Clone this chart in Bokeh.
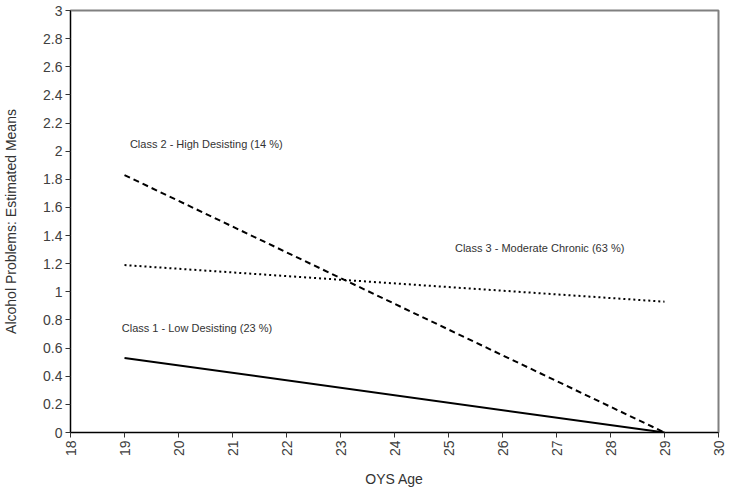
import math
from bokeh.plotting import figure
from bokeh.models import FixedTicker, Label
from bokeh.embed import file_html
from bokeh.resources import INLINE

# Data
ages = [19, 29]
class1 = [0.53, 0.0]
class2 = [1.83, 0.0]
class3 = [1.19, 0.93]
x_ticks = list(range(18, 31))
y_ticks = [0, 0.2, 0.4, 0.6, 0.8, 1, 1.2, 1.4, 1.6, 1.8, 2, 2.2, 2.4, 2.6, 2.8, 3]
y_tick_labels = ["0", "0.2", "0.4", "0.6", "0.8", "1", "1.2", "1.4", "1.6", "1.8",
                 "2", "2.2", "2.4", "2.6", "2.8", "3"]
labels = ["Class 2 - High Desisting (14 %)", "Class 1 - Low Desisting (23 %)",
          "Class 3 - Moderate Chronic (63 %)"]
label_x = [19.1, 18.95, 25.12]
label_y = [2.05, 0.74, 1.31]

FONT = "Liberation Sans"

p = figure(width=729, height=492, x_range=(18, 30), y_range=(0, 3),
           output_backend="svg", toolbar_location=None,
           min_border_left=69, min_border_right=11, min_border_top=10,
           min_border_bottom=60)
p.grid.visible = False
p.outline_line_color = "#808080"
p.outline_line_width = 2
p.background_fill_color = "white"
p.border_fill_color = "white"

p.line(ages, class1, line_color="black", line_width=2)
p.line(ages, class2, line_color="black", line_width=2, line_dash="6 4")
p.line(ages, class3, line_color="black", line_width=2, line_dash="2 3")

for t, x, y in zip(labels, label_x, label_y):
    p.add_layout(Label(x=x, y=y, text=t, text_font=FONT, text_font_size="11px",
                       text_color="#333333", text_baseline="middle", text_align="left"))

for ax in (p.xaxis[0], p.yaxis[0]):
    ax.axis_line_color = "black"
    ax.axis_line_width = 1
    ax.major_tick_line_color = "#333333"
    ax.major_tick_out = 5
    ax.major_tick_in = 0
    ax.minor_tick_line_color = None
    ax.major_label_text_font = FONT
    ax.major_label_text_font_size = "14px"
    ax.major_label_text_color = "#404040"
    ax.axis_label_text_font = FONT
    ax.axis_label_text_font_size = "14px"
    ax.axis_label_text_font_style = "normal"
    ax.axis_label_text_color = "#333333"

p.xaxis[0].ticker = FixedTicker(ticks=x_ticks)
p.xaxis[0].major_label_orientation = math.pi / 2
p.xaxis[0].major_label_standoff = 3
p.xaxis[0].axis_label = "OYS Age"
p.xaxis[0].axis_label_standoff = 12

p.yaxis[0].ticker = FixedTicker(ticks=y_ticks)
p.yaxis[0].major_label_overrides = {t: l for t, l in zip(y_ticks, y_tick_labels)}
p.yaxis[0].major_label_standoff = 3
p.yaxis[0].axis_label = "Alcohol Problems: Estimated Means"
p.yaxis[0].axis_label_standoff = 21

open("out.html", "w").write(file_html(p, INLINE))
